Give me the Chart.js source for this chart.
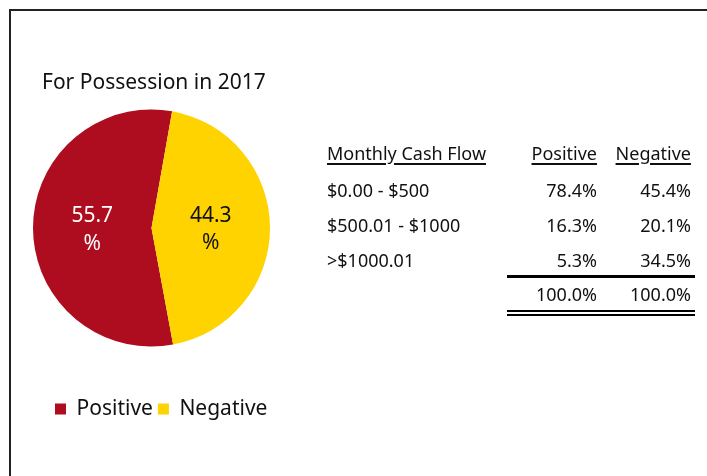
<!DOCTYPE html>
<html>
<head>
<meta charset="utf-8">
<script src="https://cdn.jsdelivr.net/npm/chart.js@4.4.1/dist/chart.umd.min.js"></script>
<style>
  html, body { margin: 0; padding: 0; background: #ffffff; }
  body { width: 707px; height: 476px; position: relative; overflow: hidden; font-family: "Noto Sans", sans-serif; color: #111; }
  #frame { position: absolute; left: 9px; top: 9px; width: 900px; height: 700px; border: 2px solid #222; box-sizing: border-box; }
  #chart { position: absolute; left: 0; top: 0; }
  #title { position: absolute; left: 42px; top: 69px; font-size: 21px; line-height: 24px; white-space: nowrap; }
  .cell { position: absolute; font-size: 18px; line-height: 35px; height: 35px; white-space: nowrap; }
  .hdr { text-decoration: underline; text-decoration-thickness: 2px; text-underline-offset: 3px; }
  .rule { position: absolute; background: #000; }
  .dbl { position: absolute; border-top: 2px solid #000; border-bottom: 2px solid #000; box-sizing: border-box; }
</style>
</head>
<body>
<div id="frame"></div>
<canvas id="chart" width="707" height="476"></canvas>
<div id="title">For Possession in 2017</div>
<div id="table"></div>
<script>
// ---- data ----
const pieLabels = ['Positive', 'Negative'];
const pieValues = [55.7, 44.3];
const tableHeaders = ['Monthly Cash Flow', 'Positive', 'Negative'];
const cashFlowRanges = ['$0.00 - $500', '$500.01 - $1000', '>$1000.01'];
const positiveShares = [78.4, 16.3, 5.3];
const negativeShares = [45.4, 20.1, 34.5];
const columnTotals = [100.0, 100.0];

// ---- styles ----
const sliceColors = ['#AE0D1F', '#FFD300'];
const sliceTextColors = ['#ffffff', '#111111'];

// ---- table (HTML text) ----
const table = document.getElementById('table');
const colLeft = 327, col2Right = 597, col3Right = 691;
function addCell(text, top, opts) {
  const d = document.createElement('div');
  d.className = 'cell' + (opts.hdr ? ' hdr' : '');
  d.textContent = text;
  d.style.top = top + 'px';
  if (opts.right !== undefined) {
    d.style.right = (707 - opts.right) + 'px';
    d.style.textAlign = 'right';
  } else {
    d.style.left = opts.left + 'px';
  }
  table.appendChild(d);
}
addCell(tableHeaders[0], 135.5, {left: colLeft, hdr: true});
addCell(tableHeaders[1], 135.5, {right: col2Right, hdr: true});
addCell(tableHeaders[2], 135.5, {right: col3Right, hdr: true});
cashFlowRanges.forEach((r, i) => {
  const top = 172.5 + 35 * i;
  addCell(r, top, {left: colLeft});
  addCell(positiveShares[i].toFixed(1) + '%', top, {right: col2Right});
  addCell(negativeShares[i].toFixed(1) + '%', top, {right: col3Right});
});
addCell(columnTotals[0].toFixed(1) + '%', 277, {right: col2Right});
addCell(columnTotals[1].toFixed(1) + '%', 277, {right: col3Right});
const r1 = document.createElement('div'); r1.className = 'rule';
Object.assign(r1.style, {left: '507px', top: '275px', width: '188px', height: '3px'});
table.appendChild(r1);
const r2 = document.createElement('div'); r2.className = 'dbl';
Object.assign(r2.style, {left: '507px', top: '310px', width: '188px', height: '6px'});
table.appendChild(r2);

// ---- chart ----
const sliceLabels = {
  id: 'sliceLabels',
  afterDatasetsDraw(chart) {
    const ctx = chart.ctx;
    const meta = chart.getDatasetMeta(0);
    const vals = chart.data.datasets[0].data;
    meta.data.forEach((arc, i) => {
      const p = arc.tooltipPosition();
      ctx.save();
      ctx.font = '21px "Noto Sans"';
      ctx.fillStyle = sliceTextColors[i];
      ctx.textAlign = 'center';
      ctx.textBaseline = 'middle';
      ctx.fillText(vals[i].toFixed(1), p.x, p.y - 12);
      ctx.fillText('%', p.x, p.y + 15.5);
      ctx.restore();
    });
  }
};
const legendShift = {
  id: 'legendShift',
  afterLayout(chart) {
    const l = chart.legend;
    if (l) { l.left += 17; l.right += 17; }
  }
};

new Chart(document.getElementById('chart'), {
  type: 'pie',
  data: {
    labels: pieLabels,
    datasets: [{
      data: pieValues,
      backgroundColor: sliceColors,
      borderWidth: 0,
      hoverOffset: 0,
      offset: 0
    }]
  },
  options: {
    responsive: false,
    animation: false,
    devicePixelRatio: 1,
    rotation: 169.5,
    layout: { padding: { left: 33, right: 437, top: 62.5, bottom: 46.5 } },
    plugins: {
      tooltip: { enabled: false },
      legend: {
        position: 'bottom',
        align: 'start',
        labels: {
          boxWidth: 11,
          boxHeight: 11,
          padding: 5,
          color: '#111',
          font: { family: '"Noto Sans"', size: 21 }
        }
      }
    }
  },
  plugins: [sliceLabels, legendShift]
});
</script>
</body>
</html>
